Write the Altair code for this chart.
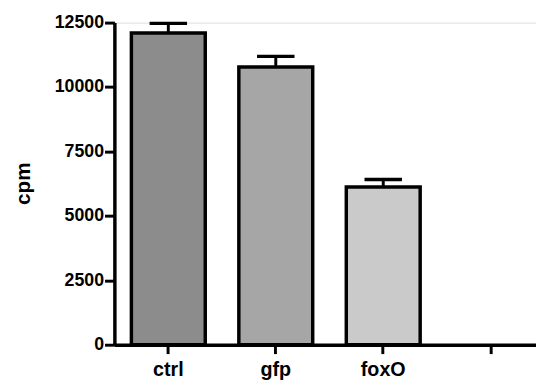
import altair as alt
import pandas as pd

categories = ["ctrl", "gfp", "foxO", ""]
bar_groups = ["ctrl", "gfp", "foxO"]
means = [12100, 10780, 6120]
errors = [370, 410, 295]
fills = ["#8c8c8c", "#a6a6a6", "#cacaca"]

df = pd.DataFrame({
    "group": bar_groups,
    "cpm": means,
    "upper": [m + e for m, e in zip(means, errors)],
})

x_scale = alt.Scale(domain=categories, paddingInner=0.3125, paddingOuter=0.118, align=0.67)
x_enc = alt.X("group:N", scale=x_scale, sort=categories,
              axis=alt.Axis(title=None, labelAngle=0, labelFontSize=20, labelFontWeight="bold",
                            labelPadding=6, tickSize=9, tickWidth=3, domainWidth=3.5,
                            labelColor="black", tickColor="black", domainColor="black"))
y_scale = alt.Scale(domain=[0, 12500], nice=False)
y_axis = alt.Axis(title="cpm", values=[0, 2500, 5000, 7500, 10000, 12500], format="d",
                  tickSize=10, tickWidth=3, domainWidth=3.5, labelFontSize=18,
                  labelFontWeight="bold", labelPadding=1, grid=False, titleFontSize=21,
                  titleFontWeight="bold", titleAngle=270, titleX=-92, titleY=163,
                  titleAlign="center", titleBaseline="middle", labelColor="black",
                  tickColor="black", domainColor="black", titleColor="black")

base = alt.Chart(df)

stems = base.mark_rule(color="black", strokeWidth=3).encode(
    x=x_enc,
    y=alt.Y("cpm:Q", scale=y_scale, axis=y_axis),
    y2="upper:Q",
)
caps = base.mark_tick(color="black", size=38, thickness=3.5, opacity=1).encode(
    x=x_enc,
    y=alt.Y("upper:Q", scale=y_scale),
)
bars = base.mark_bar(stroke="black", strokeWidth=3.5, opacity=1).encode(
    x=x_enc,
    y=alt.Y("cpm:Q", scale=y_scale),
    fill=alt.Fill("group:N", scale=alt.Scale(domain=bar_groups, range=fills), legend=None),
)

chart = alt.layer(stems, caps, bars).properties(
    width=428, height=327,
    autosize=alt.AutoSizeParams(type="none"),
    padding={"left": 108, "top": 12, "right": 0, "bottom": 33},
).configure_view(stroke=None).configure(font="Liberation Sans")

chart.save("out.html", embed_options={"renderer": "svg", "actions": False})
